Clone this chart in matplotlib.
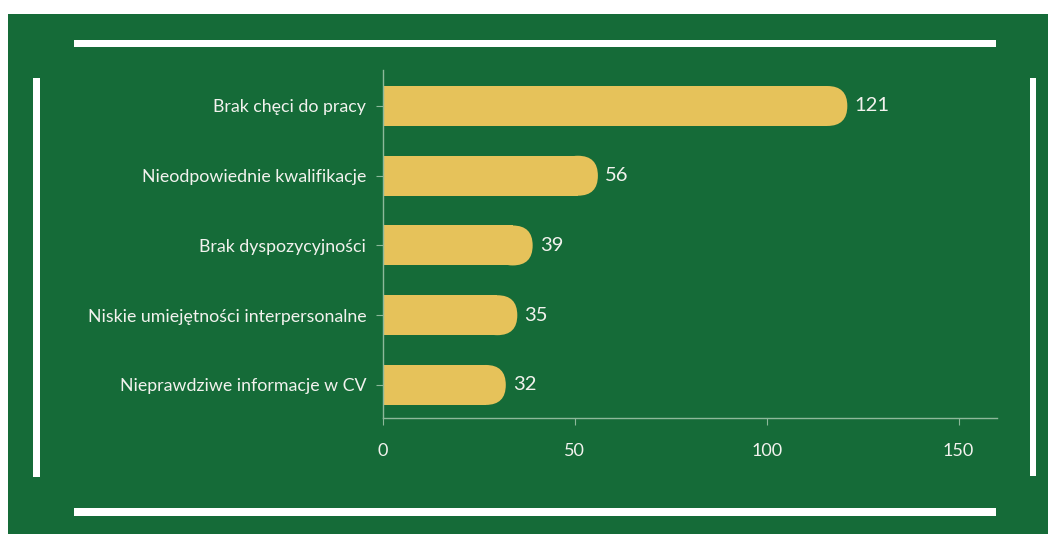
import matplotlib
matplotlib.use('Agg')
from matplotlib import pyplot as plt
from matplotlib.patches import Rectangle, FancyBboxPatch

# Data
categories = ['Brak chęci do pracy', 'Nieodpowiednie kwalifikacje', 'Brak dyspozycyjności',
              'Niskie umiejętności interpersonalne', 'Nieprawdziwe informacje w CV']
values = [121, 56, 39, 35, 32]
xticks = [0, 50, 100, 150]

green = '#156b38'
yellow = '#e6c25a'
txt = '#f2f2ee'
axcol = '#8db89a'

plt.rcParams['font.family'] = ['Lato', 'DejaVu Sans']

W, H = 1048, 534
my_dpi = 100
fig = plt.figure(figsize=(W / my_dpi, H / my_dpi), dpi=my_dpi)
fig.patch.set_facecolor('white')

def px_rect(x0, y0, x1, y1, color):
    # rectangle given in pixel coords (origin top-left)
    r = Rectangle((x0 / W, 1 - y1 / H), (x1 - x0) / W, (y1 - y0) / H,
                  transform=fig.transFigure, facecolor=color, edgecolor='none', zorder=0)
    fig.add_artist(r)

# green panel and white decorative frame
px_rect(8, 14, W, H, green)
px_rect(74, 40, 996, 47, 'white')
px_rect(74, 508, 996, 516, 'white')
px_rect(33, 78, 40, 477, 'white')
px_rect(1030, 78, 1036, 476, 'white')

# axes placement in pixels
ax_l, ax_r, ax_t, ax_b = 383, 997, 70, 418
ax = fig.add_axes([ax_l / W, 1 - ax_b / H, (ax_r - ax_l) / W, (ax_b - ax_t) / H])
ax.set_facecolor('none')

xmax = 160
ylo, yhi = 4.474, -0.516
ax.set_xlim(0, xmax)
ax.set_ylim(ylo, yhi)

bar_h = 0.573
px_x = (ax_r - ax_l) / xmax
px_y = (ax_b - ax_t) / (ylo - yhi)
rad = bar_h / 2 * px_y / px_x  # radius in x units
aspect = px_x / px_y

for i, v in enumerate(values):
    # square left part + rounded right end
    ax.add_patch(Rectangle((0, i - bar_h / 2), v - rad, bar_h, facecolor=yellow,
                           edgecolor='none', zorder=2))
    ax.add_patch(FancyBboxPatch((max(v - 2 * rad, 0), i - bar_h / 2), min(2 * rad, v), bar_h,
                                boxstyle='round,pad=0,rounding_size=%f' % rad,
                                mutation_aspect=aspect, facecolor=yellow,
                                edgecolor='none', zorder=2))
    ax.text(v + 7 / px_x, i, str(v), va='center', ha='left', color=txt, fontsize=14.5)

ax.set_yticks(range(len(categories)))
ax.set_yticklabels(categories)
ax.set_xticks(xticks)

for s in ['top', 'right']:
    ax.spines[s].set_visible(False)
for s in ['left', 'bottom']:
    ax.spines[s].set_color(axcol)
    ax.spines[s].set_linewidth(1)

ax.tick_params(axis='y', colors=axcol, labelcolor=txt, labelsize=12.8, length=5, pad=7)
ax.tick_params(axis='x', colors=axcol, labelcolor=txt, labelsize=13, length=5, pad=13)

plt.savefig('out.png', dpi=my_dpi)
plt.close()
